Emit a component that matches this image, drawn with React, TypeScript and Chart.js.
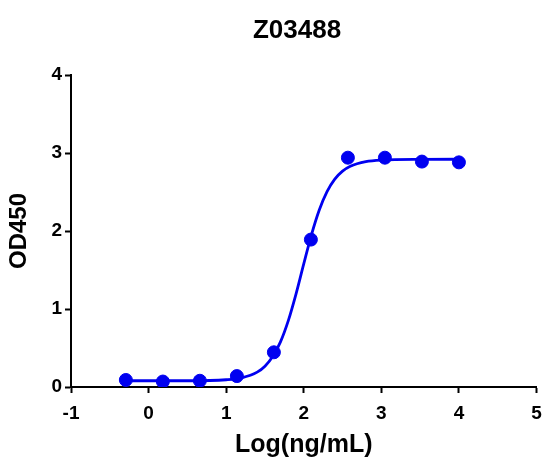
import React, { useEffect, useRef } from "react";
import { Chart, registerables } from "chart.js";

Chart.register(...registerables);

const chartTitle = "Z03488";
const xAxisTitle = "Log(ng/mL)";
const yAxisTitle = "OD450";

// measured points
const logConc = [-0.293, 0.184, 0.661, 1.138, 1.615, 2.092, 2.569, 3.046, 3.523, 4.0];
const od450 = [0.09, 0.07, 0.08, 0.14, 0.445, 1.89, 2.94, 2.94, 2.89, 2.88];

// fitted curve
const fitX = [-0.293, 0.5, 1.0, 1.2, 1.4, 1.5, 1.6, 1.7, 1.8, 1.9, 2.0, 2.1, 2.2, 2.3, 2.4, 2.5, 2.6, 2.8, 3.0, 3.5, 4.0];
const fitY = [0.08, 0.08, 0.093, 0.118, 0.191, 0.267, 0.39, 0.578, 0.847, 1.191, 1.578, 1.954, 2.27, 2.506, 2.666, 2.768, 2.831, 2.89, 2.91, 2.919, 2.92];

const xTicks = [-1, 0, 1, 2, 3, 4, 5];
const yTicks = [0, 1, 2, 3, 4];

const FONT = '"Liberation Sans", Arial, sans-serif';
const BLUE = "rgb(0, 0, 240)";

const titlePlugin = {
  id: "customTitle",
  afterDraw(chart: any) {
    const ctx = chart.ctx;
    ctx.save();
    ctx.font = `bold 26px ${FONT}`;
    ctx.fillStyle = "#000";
    ctx.textAlign = "center";
    ctx.textBaseline = "alphabetic";
    ctx.fillText(chartTitle, 297, 38);
    ctx.restore();
  },
};

export default function App() {
  const ref = useRef<HTMLCanvasElement | null>(null);

  useEffect(() => {
    if (!ref.current) return;
    const chart = new Chart(ref.current, {
      type: "line",
      data: {
        datasets: [
          {
            label: "data",
            data: logConc.map((x, i) => ({ x, y: od450[i] })),
            showLine: false,
            pointRadius: 6.5,
            pointHoverRadius: 6.5,
            pointBackgroundColor: BLUE,
            pointBorderColor: BLUE,
            borderColor: BLUE,
            backgroundColor: BLUE,
          },
          {
            label: "fit",
            data: fitX.map((x, i) => ({ x, y: fitY[i] })),
            borderColor: BLUE,
            borderWidth: 2.8,
            pointRadius: 0,
            cubicInterpolationMode: "monotone",
            fill: false,
          },
        ],
      },
      options: {
        animation: false,
        responsive: false,
        events: [],
        layout: { padding: { top: 75, right: 7, left: 0, bottom: 0 } },
        plugins: {
          legend: { display: false },
          title: { display: false },
          tooltip: { enabled: false },
        },
        scales: {
          x: {
            type: "linear",
            min: xTicks[0],
            max: xTicks[xTicks.length - 1],
            afterFit: (s: any) => {
              s.height = 73;
              s.paddingLeft = 0;
              s.paddingRight = 0;
            },
            ticks: {
              stepSize: 1,
              color: "#000",
              padding: 9,
              font: { family: FONT, size: 19, weight: "bold" },
            },
            grid: {
              display: true,
              drawOnChartArea: false,
              drawTicks: true,
              tickLength: 6,
              tickColor: "#000",
              tickWidth: 2,
            },
            border: { display: true, color: "#000", width: 2 },
            title: {
              display: true,
              text: xAxisTitle,
              color: "#000",
              font: { family: FONT, size: 25, weight: "bold" },
              padding: { top: 0, bottom: 0 },
            },
          },
          y: {
            type: "linear",
            min: yTicks[0],
            max: yTicks[yTicks.length - 1],
            afterFit: (s: any) => {
              s.width = 71;
              s.paddingTop = 0;
              s.paddingBottom = 0;
            },
            ticks: {
              stepSize: 1,
              color: "#000",
              padding: 3,
              font: { family: FONT, size: 19, weight: "bold" },
            },
            grid: {
              display: true,
              drawOnChartArea: false,
              drawTicks: true,
              tickLength: 6,
              tickColor: "#000",
              tickWidth: 2,
            },
            border: { display: true, color: "#000", width: 2 },
            title: {
              display: true,
              text: yAxisTitle,
              color: "#000",
              font: { family: FONT, size: 24, weight: "bold" },
              padding: { top: 5, bottom: 0 },
            },
          },
        },
      },
      plugins: [titlePlugin],
    } as any);
    return () => chart.destroy();
  }, []);

  return (
    <div style={{ position: "fixed", left: 0, top: 0, width: 544, height: 460, background: "#fff" }}>
      <canvas ref={ref} width={544} height={460} style={{ width: 544, height: 460, display: "block" }} />
    </div>
  );
}
